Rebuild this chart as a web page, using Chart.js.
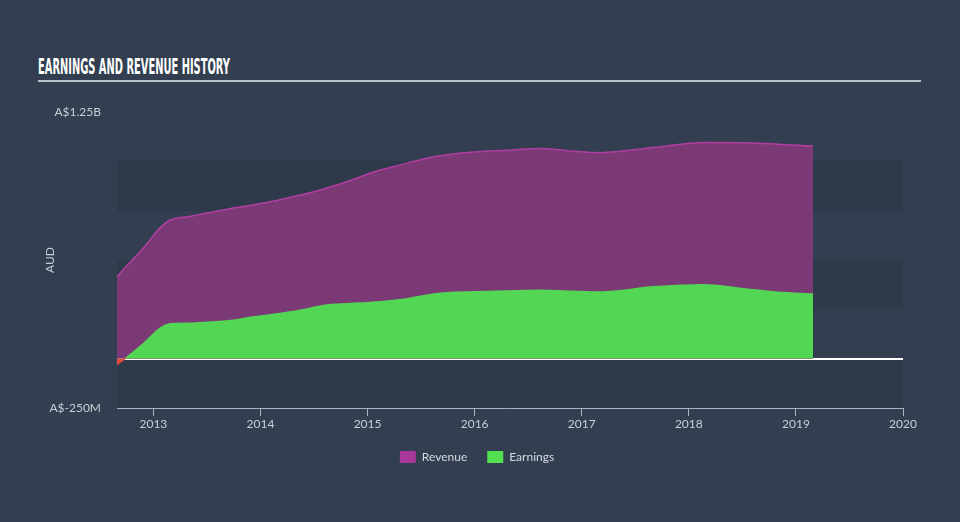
<!DOCTYPE html>
<html>
<head>
<meta charset="utf-8">
<script src="https://cdn.jsdelivr.net/npm/chart.js@4/dist/chart.umd.min.js"></script>
<style>
html,body{margin:0;padding:0;background:#333f50;width:960px;height:522px;overflow:hidden}
#wrap{position:relative;width:960px;height:522px}
#title{position:absolute;left:38px;top:57px;color:#ffffff;font-family:"Liberation Sans Narrow","DejaVu Sans Condensed","Liberation Sans",sans-serif;font-weight:bold;font-size:21px;line-height:21px;white-space:nowrap;transform-origin:0 0}
#rule{position:absolute;left:38px;top:80px;width:883px;height:2px;background:#b9bfc7}
canvas{position:absolute;left:0;top:0}
</style>
</head>
<body>
<div id="wrap">
  <div id="title">EARNINGS AND REVENUE HISTORY</div>
  <div id="rule"></div>
  <canvas id="c" width="960" height="522"></canvas>
</div>
<script>
// Period end dates as decimal years
const periods = [2012.66, 2012.74, 2012.91, 2013.07, 2013.16, 2013.34, 2013.53, 2013.70, 2013.90,
  2014.15, 2014.37, 2014.59, 2014.84, 2015.05, 2015.21, 2015.37, 2015.62, 2015.99,
  2016.30, 2016.61, 2016.89, 2017.18, 2017.67, 2018.14, 2018.51, 2018.83, 2019.16];
// Revenue, millions AUD
const revenue = [415, 464, 563, 668, 703, 721, 741, 759, 776,
  801, 829, 860, 903, 945, 969, 991, 1023, 1047,
  1056, 1065, 1053, 1044, 1070, 1095, 1094, 1087, 1077];
// Earnings, millions AUD
const earnings = [-30, 2, 78, 157, 177, 180, 186, 192, 209,
  226, 245, 270, 279, 286, 294, 304, 328, 339,
  343, 347, 342, 338, 364, 375, 354, 337, 328];
const xTickYears = [2013, 2014, 2015, 2016, 2017, 2018, 2019, 2020];
const yMin = -250, yMax = 1250, yStep = 250;
const yEdgeLabels = {"-250": "A$-250M", "1250": "A$1.25B"};
const seriesNames = ["Revenue", "Earnings"];

// title width fit
const t = document.getElementById('title');
const tw = t.getBoundingClientRect().width;
t.style.transform = 'scaleX(' + (192 / tw) + ')';

const tickColor = '#c9ced5';
const axisColor = '#a9b5c3';
const fontFam = 'Lato, "Open Sans", sans-serif';
const green = '#53d654';
const red = '#e5493a';

const bandsPlugin = {
  id: 'bands',
  beforeDraw(chart) {
    const {ctx, chartArea, scales} = chart;
    const y = scales.y;
    ctx.save();
    ctx.fillStyle = '#2e3a4a';
    for (let v = yMin; v < yMax; v += 2 * yStep) {
      if (v + yStep > 1000) break;
      const top = y.getPixelForValue(v + yStep);
      const bot = y.getPixelForValue(v);
      ctx.fillRect(chartArea.left, top, chartArea.right - chartArea.left, bot - top);
    }
    ctx.restore();
  }
};

const legendShift = {
  id: 'legendShift',
  afterLayout(chart) {
    if (chart.legend) { chart.legend.left += 6; chart.legend.right += 6; }
  }
};

new Chart(document.getElementById('c'), {
  type: 'line',
  data: {
    datasets: [
      {
        label: seriesNames[0],
        data: periods.map((p, i) => ({x: p, y: revenue[i]})),
        borderColor: '#b13ea2',
        backgroundColor: '#7b3a76',
        fill: 'origin',
        borderWidth: 1.5,
        pointRadius: 0,
        cubicInterpolationMode: 'monotone',
        order: 1
      },
      {
        label: seriesNames[1],
        data: periods.map((p, i) => ({x: p, y: earnings[i]})),
        borderColor: green,
        backgroundColor: green,
        fill: {target: 'origin', above: green, below: red},
        borderWidth: 1.5,
        pointRadius: 0,
        cubicInterpolationMode: 'monotone',
        segment: {
          borderColor: c => (c.p0.parsed.y < 0 ? red : green)
        },
        order: 0
      }
    ]
  },
  options: {
    responsive: false,
    animation: false,
    events: [],
    layout: {padding: {left: 39, right: 57, top: 112, bottom: 49}},
    scales: {
      x: {
        type: 'linear',
        min: periods[0],
        max: 2020,
        afterBuildTicks: s => { s.ticks = xTickYears.map(v => ({value: v})); },
        afterFit: s => { s.height = 23; },
        ticks: {
          autoSkip: false, maxRotation: 0, padding: 1,
          color: tickColor, font: {family: fontFam, size: 12},
          callback: v => String(v)
        },
        grid: {display: true, drawOnChartArea: false, drawTicks: true, tickLength: 8, color: axisColor, lineWidth: 1},
        border: {display: true, color: axisColor, width: 1}
      },
      y: {
        min: yMin,
        max: yMax,
        afterFit: s => { s.width = 78; },
        ticks: {
          stepSize: yStep, padding: 16, color: tickColor, font: {family: fontFam, size: 12},
          callback: v => yEdgeLabels[String(v)] || ''
        },
        grid: {
          drawTicks: false,
          color: c => (c.tick && c.tick.value === 0) ? '#ffffff' : 'rgba(0,0,0,0)',
          lineWidth: c => (c.tick && c.tick.value === 0) ? 2 : 0
        },
        border: {display: false},
        title: {display: true, text: 'AUD', color: tickColor, font: {family: fontFam, size: 12}, padding: {top: 4, bottom: 4}}
      }
    },
    plugins: {
      legend: {
        position: 'bottom',
        labels: {
          boxWidth: 16, boxHeight: 12, padding: 20,
          color: '#d5d9de', font: {family: fontFam, size: 12},
          generateLabels: () => [
            {text: seriesNames[0], fillStyle: '#a8389a', strokeStyle: '#a8389a', lineWidth: 0, datasetIndex: 0, fontColor: '#d5d9de'},
            {text: seriesNames[1], fillStyle: '#52e052', strokeStyle: '#52e052', lineWidth: 0, datasetIndex: 1, fontColor: '#d5d9de'}
          ]
        }
      },
      tooltip: {enabled: false}
    }
  },
  plugins: [bandsPlugin, legendShift]
});
</script>
</body>
</html>
